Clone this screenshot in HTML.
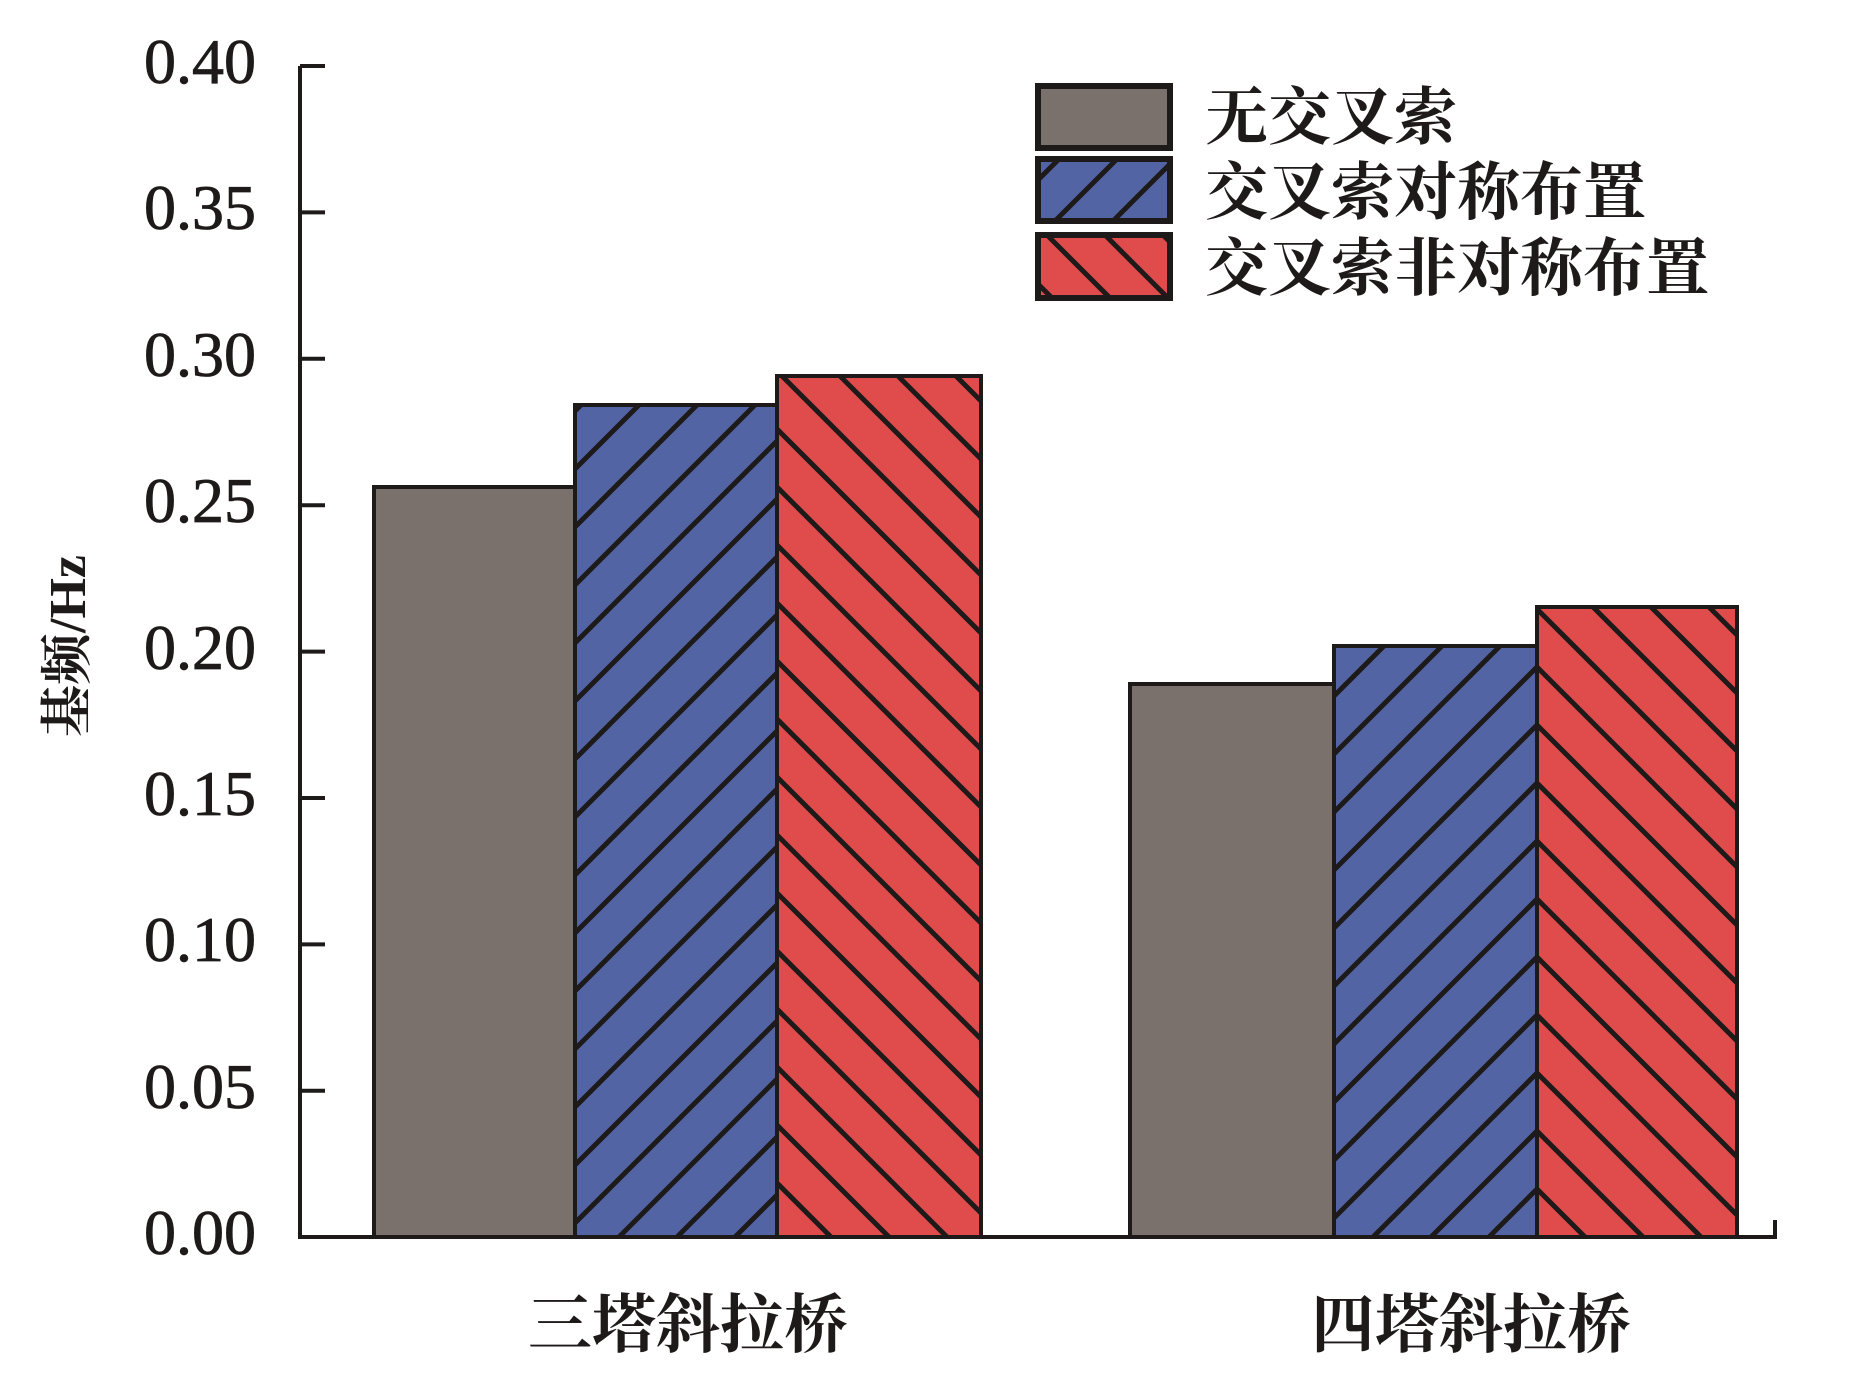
<!DOCTYPE html>
<html><head><meta charset="utf-8"><style>html,body{margin:0;padding:0;background:#fff}</style></head>
<body>
<svg width="1854" height="1379" viewBox="0 0 1854 1379" xmlns="http://www.w3.org/2000/svg">
<defs>
<pattern id="bl" patternUnits="userSpaceOnUse" width="58" height="58">
<rect width="58" height="58" fill="#5264a4"/>
<g stroke="#1e1a1a" stroke-width="5">
<line x1="-10" y1="68" x2="68" y2="-10"/><line x1="-39" y1="39" x2="39" y2="-39"/><line x1="19" y1="97" x2="97" y2="19"/>
</g></pattern>
<pattern id="rd" patternUnits="userSpaceOnUse" width="58" height="58">
<rect width="58" height="58" fill="#e04b4b"/>
<g stroke="#1e1a1a" stroke-width="5">
<line x1="-10" y1="-10" x2="68" y2="68"/><line x1="-39" y1="19" x2="39" y2="97"/><line x1="19" y1="-39" x2="97" y2="39"/>
</g></pattern>
</defs>
<g stroke="#1e1a1a" stroke-width="4">
<rect x="374" y="487" width="201" height="750" fill="#7a706c"/>
<rect x="575" y="405" width="202" height="832" fill="url(#bl)"/>
<rect x="777" y="376" width="204" height="861" fill="url(#rd)"/>
<rect x="1130" y="684" width="204" height="553" fill="#7a706c"/>
<rect x="1334" y="646" width="203" height="591" fill="url(#bl)"/>
<rect x="1537" y="607" width="200" height="630" fill="url(#rd)"/>
</g>
<g stroke="#1e1a1a" stroke-width="4" fill="none">
<polyline points="300,66 300,1237 1775,1237 1775,1220"/>
<line x1="300" y1="66" x2="325" y2="66"/><line x1="300" y1="212.4" x2="325" y2="212.4"/>
<line x1="300" y1="358.8" x2="325" y2="358.8"/><line x1="300" y1="505.2" x2="325" y2="505.2"/>
<line x1="300" y1="651.6" x2="325" y2="651.6"/><line x1="300" y1="798" x2="325" y2="798"/>
<line x1="300" y1="944.4" x2="325" y2="944.4"/><line x1="300" y1="1090.8" x2="325" y2="1090.8"/>
</g>
<g style="font-family:'Liberation Serif',serif" font-size="64" fill="#1e1a1a" text-anchor="end" stroke="#1e1a1a" stroke-width="0.8">
<text x="256" y="83">0.40</text><text x="256" y="229">0.35</text><text x="256" y="376">0.30</text>
<text x="256" y="522">0.25</text><text x="256" y="669">0.20</text><text x="256" y="815">0.15</text>
<text x="256" y="961">0.10</text><text x="256" y="1108">0.05</text><text x="256" y="1254">0.00</text>
</g>
<text transform="translate(85,646) rotate(-90)" text-anchor="middle" style="font-family:'Liberation Serif','Noto Serif CJK SC',serif" font-weight="bold" font-size="52" fill="#1e1a1a">基频/Hz</text>
<g style="font-family:'Noto Serif CJK SC',serif" font-weight="bold" font-size="64" fill="#1e1a1a" text-anchor="middle">
<text x="688" y="1347">三塔斜拉桥</text><text x="1471" y="1347">四塔斜拉桥</text>
</g>
<g stroke="#1e1a1a" stroke-width="6">
<rect x="1038" y="86" width="132" height="62" fill="#7a706c"/>
<rect x="1038" y="159" width="132" height="62" fill="url(#bl)"/>
<rect x="1038" y="235" width="132" height="63" fill="url(#rd)"/>
</g>
<g style="font-family:'Noto Serif CJK SC',serif" font-weight="bold" font-size="63" fill="#1e1a1a">
<text x="1205" y="139">无交叉索</text><text x="1205" y="214">交叉索对称布置</text><text x="1205" y="290">交叉索非对称布置</text>
</g>
</svg>
</body></html>
